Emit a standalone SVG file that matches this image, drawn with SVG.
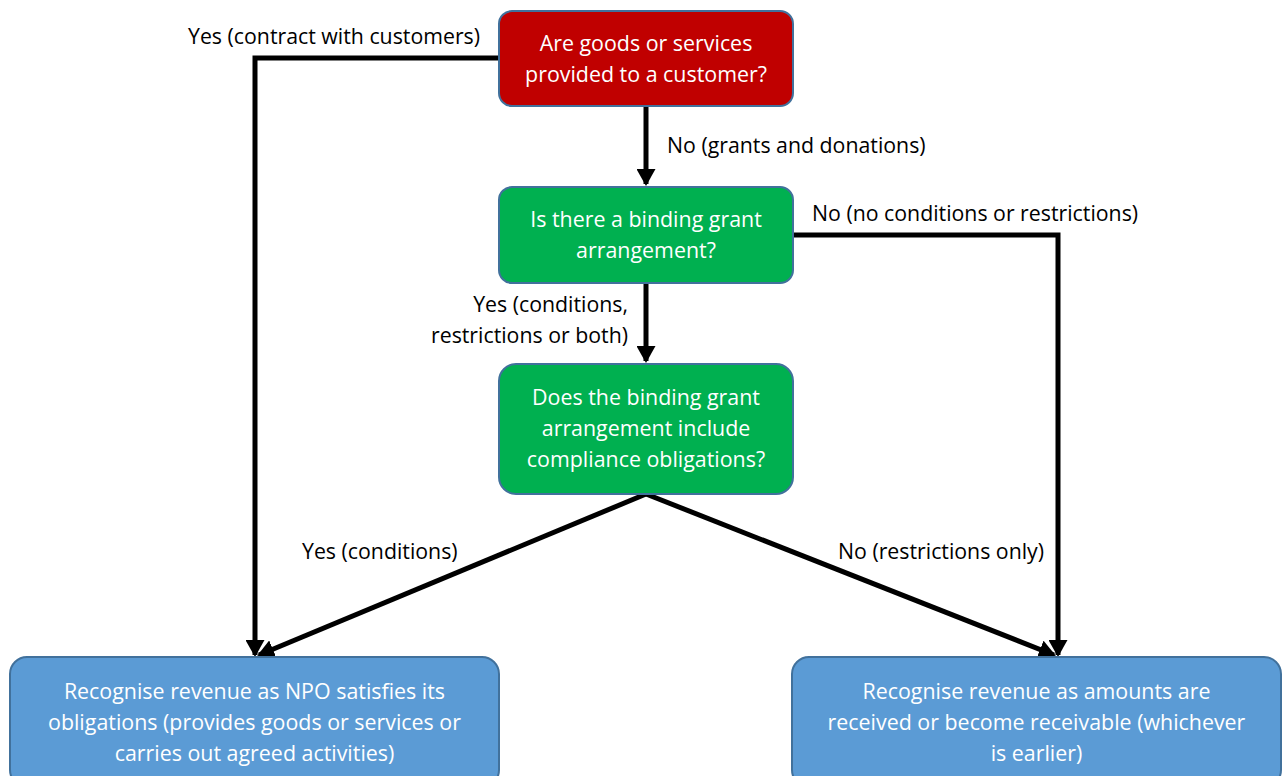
<svg xmlns="http://www.w3.org/2000/svg" width="1285" height="776" viewBox="0 0 1285 776">
<defs>
<marker id="ah" markerWidth="3.4" markerHeight="3.8" refX="3" refY="1.9" orient="auto" markerUnits="strokeWidth" viewBox="0 0 3.4 3.8">
<path d="M0,0 L3.4,1.9 L0,3.8 Z" fill="#000"/>
</marker>
<style>
.box{stroke:#41719C;stroke-width:2}
.red{fill:#C00000}
.green{fill:#00B050}
.blue{fill:#5B9BD5}
.nt{font-family:"Open Sans","Liberation Sans",sans-serif;font-size:21.4px;fill:#fff;text-anchor:middle}
.lb{font-family:"Open Sans","Liberation Sans",sans-serif;font-size:21.3px;fill:#000}
.cn{fill:none;stroke:#000;stroke-width:5;marker-end:url(#ah)}
</style>
</defs>
<rect width="1285" height="776" fill="#fff"/>
<g id="connectors">
<path class="cn" d="M499,58 L255,58 L255,655"/>
<path class="cn" d="M646,106 L646,184"/>
<path class="cn" d="M646,283 L646,361"/>
<path class="cn" d="M793,235 L1058,235 L1058,655"/>
<path class="cn" d="M646,494 L259,655"/>
<path class="cn" d="M646,494 L1054,655"/>
</g>
<g id="labels">
<text class="lb" x="188" y="44">Yes (contract with customers)</text>
<text class="lb" x="667" y="153">No (grants and donations)</text>
<text class="lb" x="812" y="221">No (no conditions or restrictions)</text>
<text class="lb" x="628" y="312" text-anchor="end">Yes (conditions,</text>
<text class="lb" x="628" y="343" text-anchor="end">restrictions or both)</text>
<text class="lb" x="302" y="559">Yes (conditions)</text>
<text class="lb" x="838" y="559">No (restrictions only)</text>
</g>
<g id="n1">
<rect class="box red" x="499" y="11" width="294" height="95" rx="13"/>
<text class="nt" x="646" y="51">Are goods or services</text>
<text class="nt" x="646" y="82">provided to a customer?</text>
</g>
<g id="n2">
<rect class="box green" x="499" y="187" width="294" height="96" rx="13"/>
<text class="nt" x="646" y="227">Is there a binding grant</text>
<text class="nt" x="646" y="258">arrangement?</text>
</g>
<g id="n3">
<rect class="box green" x="499" y="364" width="294" height="130" rx="17"/>
<text class="nt" x="646" y="405">Does the binding grant</text>
<text class="nt" x="646" y="436">arrangement include</text>
<text class="nt" x="646" y="467">compliance obligations?</text>
</g>
<g id="n4">
<rect class="box blue" x="10" y="657" width="489" height="130" rx="17"/>
<text class="nt" x="254.5" y="699">Recognise revenue as NPO satisfies its</text>
<text class="nt" x="254.5" y="730">obligations (provides goods or services or</text>
<text class="nt" x="254.5" y="761">carries out agreed activities)</text>
</g>
<g id="n5">
<rect class="box blue" x="792" y="657" width="489" height="130" rx="17"/>
<text class="nt" x="1036.5" y="699">Recognise revenue as amounts are</text>
<text class="nt" x="1036.5" y="730">received or become receivable (whichever</text>
<text class="nt" x="1036.5" y="761">is earlier)</text>
</g>
</svg>
